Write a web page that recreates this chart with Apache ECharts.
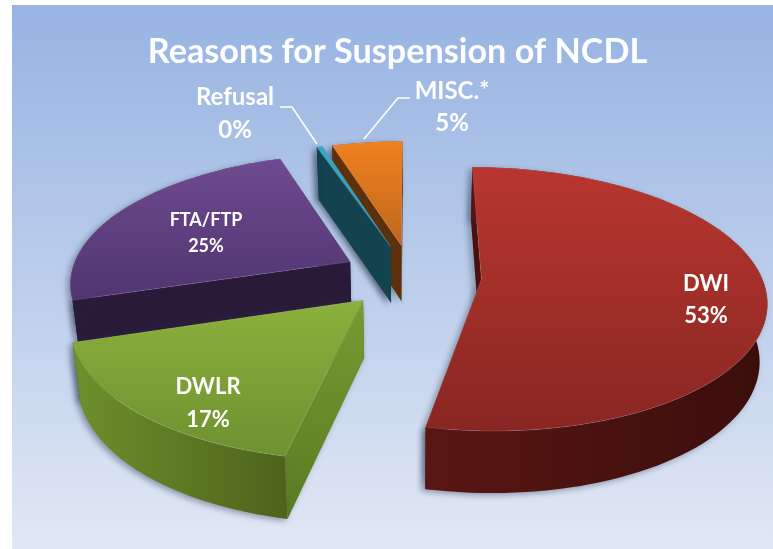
<!DOCTYPE html>
<html>
<head>
<meta charset="utf-8">
<title>Reasons for Suspension of NCDL</title>
<style>
html,body{margin:0;padding:0;background:#fff;}
#piechart01{width:773px;height:549px;}
</style>
<script src="https://cdn.jsdelivr.net/npm/echarts@6/dist/echarts.min.js"></script>
</head>
<body>
<div id="piechart01"></div>
<script>
// data, clockwise from 12 o'clock
var categories = ['DWI', 'DWLR', 'FTA/FTP', 'Refusal', 'MISC.*'];
var shares = [53.3, 16.9, 24.6, 0.4, 4.8];

// tilted pie: camera and explode settings
var CX = 411.5, CY = 276, RX = 280, RY = 128, PERSP = 0.149, EXPLODE = 0.25;

// far slices get painted first
var paintOrder = [4, 3, 2, 0, 1];

var skins = [
    {top: ['#b8362f', '#892622'], rim: ['#5a1613', '#3a0e0c'], start: '#4a100e', end: '#4a100e'},
    {top: ['#8bb13c', '#6f9030'], rim: ['#6f8f2c', '#4c631a'], start: ['#7a9a32', '#5a7a22'], end: '#4c631a'},
    {top: ['#6f4a90', '#4f3570'], rim: ['#2a1a3a', '#2a1a3a'], start: '#2a1a3a', end: '#2a1a3a'},
    {top: ['#36a9c8', '#2f8fac'], rim: ['#11414e', '#11414e'], start: '#12434f', end: '#12434f'},
    {top: ['#f08120', '#bd681a'], rim: ['#5b300a', '#5b300a'], start: '#5b300a', end: '#5b300a'}
];

var labels = [
    {x: 706, y: 300, size: 22, gap: 32},
    {x: 208, y: 403, size: 22, gap: 33},
    {x: 206, y: 233, size: 18, gap: 26},
    {x: 235, y: 114, size: 24, gap: 33},
    {x: 452, y: 107, size: 24, gap: 32}
];

var leaders = {
    3: [[280, 107], [292, 107], [317, 144]],
    4: [[410, 98], [398, 98], [364, 139]]
};

var total = 0;
for (var i = 0; i < shares.length; i++) {
    total += shares[i];
}

var rows = [];
var running = 0;
for (var i = 0; i < shares.length; i++) {
    rows.push([running, running + shares[i], shares[i]]);
    running += shares[i];
}

function toAngle(v) {
    return echarts.number.linearMap(v, [0, total], [0, Math.PI * 2]);
}

// plane coordinates to screen
function project(X, Y) {
    var s = 1 / (1 - PERSP * Y);
    return {x: CX + RX * X * s, y: CY + RY * Y * s, s: s};
}

// same point on the underside of the slab
function drop(p) {
    return {x: CX + (p.x - CX) * 0.978, y: p.y + 29 + 28 * p.s, s: p.s};
}

function xy(p) {
    return [p.x, p.y];
}

function paint(c, vertical) {
    if (typeof c === 'string') {
        return c;
    }
    var g = vertical ? [0, 0, 0, 1] : [0, 0, 1, 0];
    return new echarts.graphic.LinearGradient(g[0], g[1], g[2], g[3], [
        {offset: 0, color: c[0]},
        {offset: 1, color: c[1]}
    ]);
}

function wall(pts, fill, z) {
    return {
        type: 'polygon',
        z2: z,
        shape: {points: pts},
        style: {
            fill: fill,
            shadowBlur: 6,
            shadowColor: 'rgba(40,50,75,0.45)',
            shadowOffsetX: -3,
            shadowOffsetY: 2
        }
    };
}

function renderSlice(params, api) {
    var idx = params.dataIndex;
    var skin = skins[idx];
    var a0 = toAngle(api.value(0));
    var a1 = toAngle(api.value(1));
    var mid = (a0 + a1) / 2;
    var ox = EXPLODE * Math.sin(mid);
    var oy = -EXPLODE * Math.cos(mid);
    var apex = project(ox, oy);
    var order = paintOrder.indexOf(idx) * 10 + 1;

    var rim = [];
    var steps = Math.max(1, Math.ceil((a1 - a0) / (Math.PI / 90)));
    for (var k = 0; k <= steps; k++) {
        var a = a0 + (a1 - a0) * k / steps;
        rim.push(project(ox + Math.sin(a), oy - Math.cos(a)));
    }
    var first = rim[0];
    var last = rim[rim.length - 1];

    var topPts = [xy(apex)];
    var rimPts = [];
    var rimLow = [];
    for (var k = 0; k < rim.length; k++) {
        topPts.push(xy(rim[k]));
        rimPts.push(xy(rim[k]));
        rimLow.unshift(xy(drop(rim[k])));
    }

    var children = [
        wall([xy(apex), xy(last), xy(drop(last)), xy(drop(apex))], paint(skin.end), order),
        wall([xy(apex), xy(first), xy(drop(first)), xy(drop(apex))], paint(skin.start, true), order + 1),
        wall(rimPts.concat(rimLow), paint(skin.rim), order + 2),
        {
            type: 'polygon',
            z2: order + 3,
            shape: {points: topPts},
            style: {fill: paint(skin.top, true), stroke: 'rgba(255,255,255,0.12)', lineWidth: 1}
        }
    ];

    var lab = labels[idx];
    children.push({
        type: 'text',
        z2: 100,
        style: {
            x: lab.x,
            y: lab.y,
            text: categories[idx] + '\n' + Math.round(api.value(2)) + '%',
            fill: '#fff',
            font: 'bold ' + lab.size + 'px Lato',
            lineHeight: lab.gap,
            align: 'center',
            verticalAlign: 'middle'
        }
    });

    if (leaders[idx]) {
        children.push({
            type: 'polyline',
            z2: 99,
            shape: {points: leaders[idx]},
            style: {fill: null, stroke: '#fff', lineWidth: 1.6}
        });
    }

    return {type: 'group', children: children};
}

var myChart = echarts.init(document.getElementById('piechart01'));

var option = {
    backgroundColor: '#fff',
    animation: false,
    title: {
        text: 'Reasons for Suspension of NCDL',
        left: 392.5,
        top: 30,
        textAlign: 'center',
        textStyle: {
            color: '#fff',
            fontFamily: 'Lato',
            fontWeight: 'bold',
            fontSize: 34.2
        }
    },
    graphic: [{
        type: 'rect',
        z: -1,
        silent: true,
        shape: {x: 12, y: 5, width: 761, height: 544},
        style: {
            fill: new echarts.graphic.LinearGradient(0, 0, 0, 1, [
                {offset: 0, color: '#96b3e2'},
                {offset: 0.5, color: '#bbcdeb'},
                {offset: 1, color: '#e1e8f5'}
            ])
        }
    }],
    series: [{
        type: 'custom',
        coordinateSystem: 'none',
        silent: true,
        renderItem: renderSlice,
        data: rows
    }]
};

myChart.setOption(option);
</script>
</body>
</html>
